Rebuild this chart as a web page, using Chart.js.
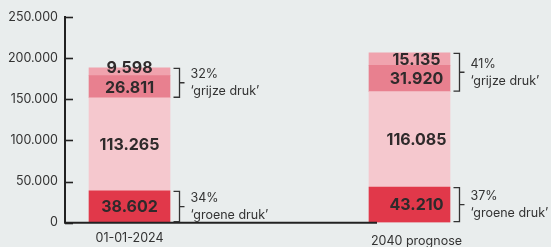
<!DOCTYPE html>
<html>
<head>
<meta charset="utf-8">
<script src="https://cdn.jsdelivr.net/npm/chart.js@4.4.0/dist/chart.umd.min.js"></script>
<style>
  html, body { margin: 0; padding: 0; background: #e9eded; }
  #wrap { width: 551px; height: 247px; }
</style>
</head>
<body>
<div id="wrap"><canvas id="chart" width="551" height="247"></canvas></div>
<script>
// ==========================================================
// 1. DATOS
// ==========================================================
const categories = ['01-01-2024', '2040 prognose'];
const groep0_19 = [38602, 43210];
const groep20_64 = [113265, 116085];
const groep65_79 = [26811, 31920];
const groep80plus = [9598, 15135];
const yTicks = [0, 50000, 100000, 150000, 200000, 250000];

const COLORS = ['#e1384a', '#f5c8ce', '#e8808f', '#f0a3ae'];
const TEXT = '#2f2a2b';
const FONT = 'Inter, "DejaVu Sans", sans-serif';

function fmt(v) {
    return String(v).replace(/\B(?=(\d{3})+(?!\d))/g, '.');
}

const series = [groep0_19, groep20_64, groep65_79, groep80plus];
const seriesNames = ['0-19', '20-64', '65-79', '80+'];

// ==========================================================
// 2. PLUGIN: etiquetas, corchetes y ejes
// ==========================================================
const decorPlugin = {
    id: 'decor',
    afterDatasetsDraw(chart) {
        const ctx = chart.ctx;
        const area = chart.chartArea;
        const yScale = chart.scales.y;
        const labelShift = [0, 7];
        ctx.save();

        // marcas del eje Y hacia dentro
        ctx.strokeStyle = '#222';
        ctx.lineWidth = 1.6;
        yTicks.forEach(t => {
            const y = Math.round(yScale.getPixelForValue(t)) + 0.5;
            ctx.beginPath();
            ctx.moveTo(area.left, y);
            ctx.lineTo(area.left + 8, y);
            ctx.stroke();
        });

        // linea base
        const bar2 = chart.getDatasetMeta(0).data[1];
        ctx.lineWidth = 2;
        ctx.beginPath();
        ctx.moveTo(area.left - 1, area.bottom);
        ctx.lineTo(bar2.x - bar2.width / 2 + 8, area.bottom);
        ctx.stroke();

        // valores dentro de las barras
        ctx.fillStyle = TEXT;
        ctx.font = 'bold 16px ' + FONT;
        ctx.textAlign = 'center';
        ctx.textBaseline = 'middle';
        chart.data.datasets.forEach((ds, i) => {
            chart.getDatasetMeta(i).data.forEach((bar, j) => {
                const h = bar.base - bar.y;
                const y = h < 10 ? bar.y : (bar.y + bar.base) / 2 + 1;
                ctx.fillText(fmt(series[i][j]), bar.x + labelShift[j], y);
            });
        });

        // categorias
        ctx.font = '12.5px ' + FONT;
        ctx.fillStyle = '#333';
        const catOffset = [15.5, 19];
        categories.forEach((c, j) => {
            const bar = chart.getDatasetMeta(0).data[j];
            ctx.fillText(c, bar.x + labelShift[j], area.bottom + catOffset[j]);
        });

        // corchetes
        ctx.strokeStyle = '#333';
        ctx.lineWidth = 1.3;
        ctx.textAlign = 'left';
        categories.forEach((c, j) => {
            const low = chart.getDatasetMeta(0).data[j];
            const top = chart.getDatasetMeta(3).data[j];
            const g2 = chart.getDatasetMeta(2).data[j];
            const pctGroen = Math.round(groep0_19[j] / groep20_64[j] * 100);
            const pctGrijs = Math.round((groep65_79[j] + groep80plus[j]) / groep20_64[j] * 100);
            const groups = [
                [top.y, g2.base, pctGrijs + '%', '\u2018grijze druk\u2019'],
                [low.y, low.base, pctGroen + '%', '\u2018groene druk\u2019']
            ];
            const x0 = low.x + low.width / 2 + 3.5;
            const x1 = x0 + 6;
            groups.forEach(g => {
                const y0 = g[0] + 0.5, y1 = g[1] - 0.5, mid = (y0 + y1) / 2;
                ctx.beginPath();
                ctx.moveTo(x0, y0);
                ctx.lineTo(x1, y0);
                ctx.lineTo(x1, y1);
                ctx.lineTo(x0, y1);
                ctx.moveTo(x1, mid);
                ctx.lineTo(x1 + 5, mid);
                ctx.stroke();
                ctx.fillText(g[2], x1 + 11, mid - 8.5);
                ctx.fillText(g[3], x1 + 11, mid + 8.5);
            });
        });

        ctx.restore();
    }
};

// ==========================================================
// 3. GRAFICO
// ==========================================================
const datasets = series.map((s, i) => ({
    label: seriesNames[i],
    data: s.map((v, j) => ({ x: j, y: v })),
    backgroundColor: COLORS[i],
    borderWidth: 0,
    barThickness: 81
}));

new Chart(document.getElementById('chart'), {
    type: 'bar',
    data: { datasets: datasets },
    options: {
        responsive: false,
        animation: false,
        layout: { padding: { top: 17, bottom: 24.3, left: 0, right: 0 } },
        plugins: { legend: { display: false }, tooltip: { enabled: false } },
        scales: {
            x: {
                type: 'linear',
                stacked: true,
                display: false,
                offset: false,
                min: -0.2304,
                max: 1.5054
            },
            y: {
                stacked: true,
                min: 0,
                max: 250000,
                afterFit(scale) { scale.width = 65; },
                afterBuildTicks(scale) { scale.ticks = yTicks.map(v => ({ value: v })); },
                grid: { drawOnChartArea: false, drawTicks: false },
                border: { display: true, color: '#222', width: 2 },
                ticks: {
                    padding: 7,
                    color: '#333',
                    font: { family: FONT, size: 12.5 },
                    callback: v => fmt(v)
                }
            }
        }
    },
    plugins: [decorPlugin]
});
</script>
</body>
</html>
